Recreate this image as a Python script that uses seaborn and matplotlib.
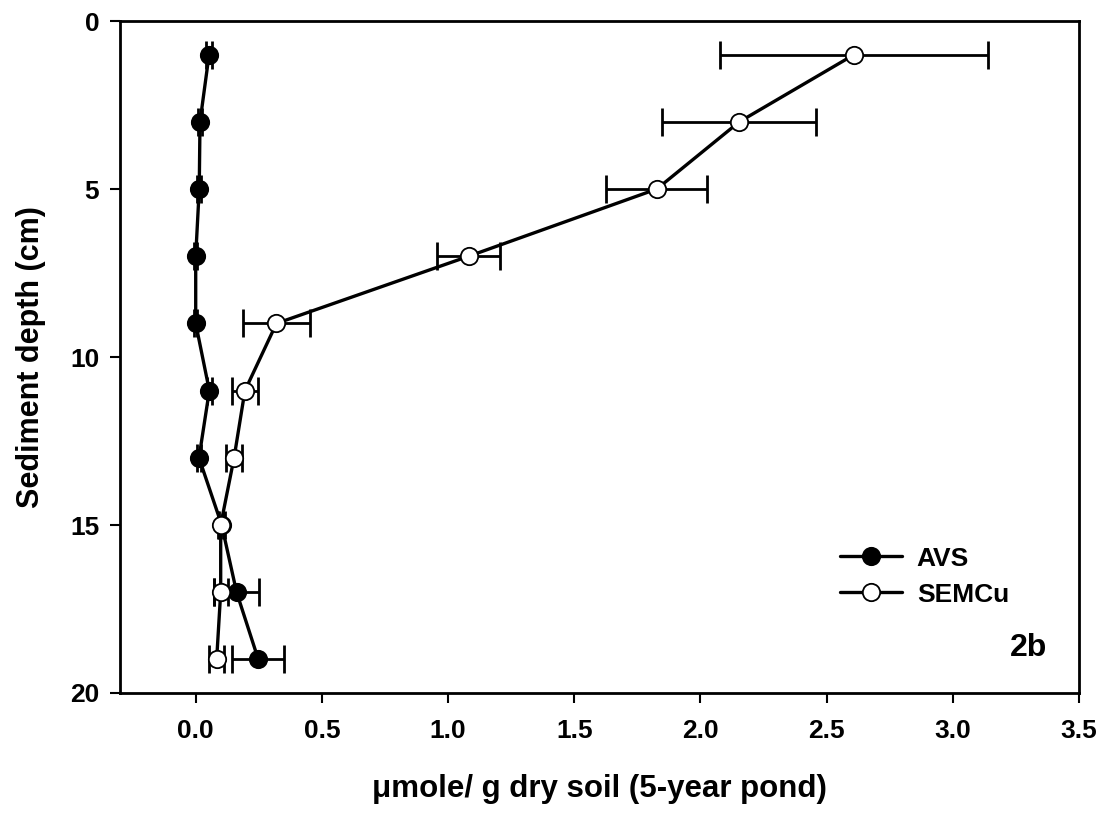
import matplotlib
matplotlib.use("Agg")
import matplotlib.pyplot as plt
import seaborn as sns
import pandas as pd
import numpy as np

depth = [1, 3, 5, 7, 9, 11, 13, 15, 17, 19]
avs = [0.053, 0.017, 0.014, 0.0, 0.0, 0.054, 0.013, 0.103, 0.162, 0.248]
avs_err = [0.012, 0.008, 0.008, 0.006, 0.006, 0.010, 0.008, 0.012, 0.090, 0.103]
semcu = [2.609, 2.154, 1.827, 1.082, 0.320, 0.195, 0.152, 0.099, 0.099, 0.083]
semcu_err = [0.530, 0.305, 0.200, 0.125, 0.132, 0.050, 0.030, 0.010, 0.028, 0.029]

sns.set_style("ticks")
plt.rcParams['font.family'] = ['Liberation Sans', 'DejaVu Sans']
plt.rcParams['font.weight'] = 'bold'
plt.rcParams['text.color'] = 'black'
plt.rcParams['axes.labelcolor'] = 'black'
plt.rcParams['xtick.color'] = 'black'
plt.rcParams['ytick.color'] = 'black'

fig, ax = plt.subplots(figsize=(11.07, 8.15), dpi=100)
fig.subplots_adjust(left=0.1084, right=0.9747, top=0.9742, bottom=0.1497)

df_avs = pd.DataFrame({"depth": depth, "value": avs})
df_sem = pd.DataFrame({"depth": depth, "value": semcu})

ax.errorbar(avs, depth, xerr=avs_err, fmt='none', ecolor='black',
            elinewidth=2, capsize=10, capthick=2, zorder=2)
sns.lineplot(data=df_avs, x="value", y="depth", orient="y", sort=False,
             color="black", linewidth=2.4, marker="o", markersize=12.5,
             markerfacecolor="black", markeredgecolor="black",
             markeredgewidth=1.3, ax=ax, label="AVS", zorder=3)
ax.errorbar(semcu, depth, xerr=semcu_err, fmt='none', ecolor='black',
            elinewidth=2, capsize=10, capthick=2, zorder=4)
sns.lineplot(data=df_sem, x="value", y="depth", orient="y", sort=False,
             color="black", linewidth=2.4, marker="o", markersize=12.5,
             markerfacecolor="white", markeredgecolor="black",
             markeredgewidth=1.3, ax=ax, label="SEMCu", zorder=5)

ax.set_xlim(-0.3, 3.5)
ax.set_ylim(20, 0)
xt = [0.0, 0.5, 1.0, 1.5, 2.0, 2.5, 3.0, 3.5]
ax.set_xticks(xt)
ax.set_xticklabels([f"{v:.1f}" for v in xt])
ax.set_yticks([0, 5, 10, 15, 20])

for s in ax.spines.values():
    s.set_visible(True)
    s.set_linewidth(2)
    s.set_color("black")

ax.tick_params(axis='both', direction='out', length=7, width=1.5,
               labelsize=19, colors='black')
ax.tick_params(axis='x', pad=12)
ax.tick_params(axis='y', pad=8)
for lab in ax.get_xticklabels() + ax.get_yticklabels():
    lab.set_fontweight('bold')

ax.set_xlabel("\u03bcmole/ g dry soil (5-year pond)", fontsize=22.5,
              fontweight='bold', labelpad=22, color='black')
ax.set_ylabel("Sediment depth (cm)", fontsize=22, fontweight='bold',
              labelpad=17, color='black')

leg = ax.legend(loc='lower right', bbox_to_anchor=(0.938, 0.113), frameon=False,
                fontsize=19, handlelength=2.35, handletextpad=0.55,
                labelspacing=0.45, borderaxespad=0)
for t in leg.get_texts():
    t.set_fontweight('bold')
    t.set_color('black')

ax.text(0.967, 0.045, "2b", transform=ax.transAxes, ha='right', va='bottom',
        fontsize=23, fontweight='bold', color='black')

fig.savefig("out.png", dpi=100)
